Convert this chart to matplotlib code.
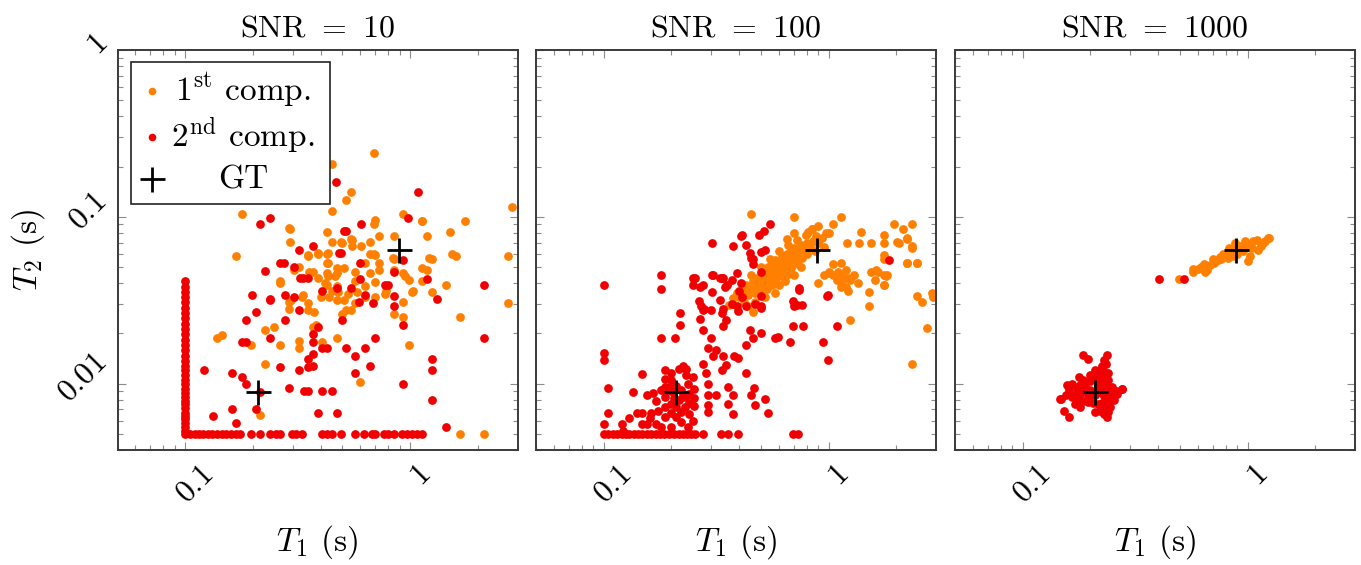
import matplotlib
matplotlib.use('Agg')
import matplotlib.pyplot as plt
from matplotlib.ticker import FixedLocator, LogLocator, NullFormatter
from matplotlib.transforms import ScaledTranslation
from matplotlib.patches import Rectangle

plt.rcParams['font.family'] = 'serif'
plt.rcParams['font.serif'] = ['cmr10', 'DejaVu Serif']
plt.rcParams['mathtext.fontset'] = 'cm'
plt.rcParams['axes.formatter.use_mathtext'] = True
plt.rcParams['axes.unicode_minus'] = False

# ---------------- data ----------------
snr_values = ['10', '100', '1000']
x_major_ticks = [0.1, 1]
x_tick_labels = ['0.1', '1']
y_major_ticks = [0.01, 0.1, 1]
y_tick_labels = ['0.01', '0.1', '1']
legend_labels = [r'$1^{\mathrm{st}}$ comp.', r'$2^{\mathrm{nd}}$ comp.', 'GT']

gt_t1 = [0.21, 0.89]
gt_t2 = [0.0089, 0.0635]

# SNR = 10, 1st component (orange)
p1_c1 = [(0.692,0.24),(0.45,0.207),(0.546,0.14),(0.52,0.126),(0.45,0.109),(0.178,0.104),(0.291,0.085),(0.291,0.0707),
 (0.427,0.081),(0.45,0.0707),(0.494,0.0707),(0.546,0.0737),(0.603,0.067),(0.665,0.0707),(0.692,0.09),(0.729,0.077),
 (0.844,0.077),(0.927,0.104),(1.13,0.094),(1.19,0.077),(1.51,0.081),(1.75,0.094),(2.85,0.115),
 (0.169,0.058),(0.352,0.0593),(0.388,0.06),(0.427,0.06),(0.427,0.0528),(0.70,0.0593),(0.844,0.0557),(1.21,0.057),
 (1.25,0.0555),(1.53,0.0598),(1.6,0.058),(2.73,0.058),(2.73,0.0304),(1.67,0.025),(1.44,0.039),(1.19,0.0482),
 (1.03,0.0357),(0.984,0.042),(0.934,0.046),(0.934,0.031),(0.934,0.025),(0.984,0.017),(0.844,0.0263),(0.78,0.0357),
 (0.70,0.0409),(0.729,0.0528),(0.632,0.0528),(0.665,0.046),(0.571,0.047),(0.571,0.041),(0.546,0.0277),(0.52,0.0277),
 (0.498,0.0262),(0.60,0.0102),(0.472,0.0187),(0.406,0.0178),(0.369,0.0219),(0.38,0.0226),(0.352,0.0277),(0.372,0.027),
 (0.335,0.034),(0.352,0.0304),(0.32,0.018),(0.32,0.0163),(0.305,0.048),(0.289,0.031),(0.289,0.028),(0.264,0.04),
 (0.264,0.017),(0.248,0.022),(0.227,0.021),(0.227,0.0132),(0.216,0.0065),(0.197,0.017),(0.139,0.0187),(0.146,0.0196),
 (0.427,0.046),(0.427,0.039),(0.45,0.036),(0.472,0.046),(1.67,0.005),(2.13,0.005),
 (1.125,0.0945),(0.289,0.086),(0.695,0.0954),(1.125,0.0493),(1.25,0.0356),(1.125,0.041),(1.02,0.0356),(0.95,0.044),
 (0.84,0.0566),(0.85,0.0481),(0.73,0.048),(0.69,0.0595),(0.66,0.0595),(0.55,0.073),(0.55,0.067),(0.5,0.07),
 (0.43,0.0607),(0.39,0.0607),(0.35,0.058),(0.43,0.053),(0.474,0.0493),(0.51,0.0493),(0.465,0.044),(0.43,0.044),
 (0.39,0.043),(0.37,0.047),(0.355,0.047),(0.32,0.05),(0.473,0.0383),(0.48,0.0356),(0.53,0.0346),(0.58,0.0356),
 (0.63,0.0383),(0.7,0.033),(0.63,0.033),(0.57,0.0303),(0.51,0.0317),(0.473,0.0317),(0.435,0.033),(0.42,0.04),
 (0.4,0.033),(0.33,0.033),(0.294,0.0317),(0.265,0.041),(0.77,0.0346)]

# SNR = 10, 2nd component (red)
p1_c2 = [(0.1,0.005),(0.1,0.0052),(0.1,0.0055),(0.1,0.0058),(0.1,0.0061),(0.1,0.0064),(0.1,0.0067),(0.1,0.0071),
 (0.1,0.0075),(0.1,0.0079),(0.1,0.0083),(0.1,0.0088),(0.1,0.0093),(0.1,0.0099),(0.1,0.0105),(0.1,0.0112),(0.1,0.012),
 (0.1,0.0128),(0.1,0.0137),(0.1,0.0147),(0.1,0.0158),(0.1,0.017),(0.1,0.0183),(0.1,0.0197),(0.1,0.0212),(0.1,0.0228),
 (0.1,0.0246),(0.1,0.0265),(0.1,0.0285),(0.1,0.0307),(0.1,0.033),(0.1,0.0355),(0.1,0.038),(0.1,0.0415),
 (0.105,0.005),(0.11,0.005),(0.115,0.005),(0.12,0.005),(0.126,0.005),(0.132,0.005),(0.138,0.005),(0.145,0.005),
 (0.152,0.005),(0.16,0.005),(0.168,0.005),(0.176,0.005),(0.197,0.005),(0.216,0.005),(0.237,0.005),(0.252,0.005),
 (0.265,0.005),(0.297,0.005),(0.311,0.005),(0.329,0.005),(0.406,0.005),(0.427,0.005),(0.447,0.005),(0.494,0.005),
 (0.571,0.005),(0.621,0.005),(0.676,0.005),(0.70,0.005),(0.762,0.005),(0.80,0.005),(0.844,0.005),(0.918,0.005),
 (0.966,0.005),(1.02,0.005),(1.07,0.005),(1.13,0.005),
 (0.121,0.012),(0.133,0.0064),(0.162,0.0115),(0.162,0.007),(0.169,0.0058),(0.178,0.011),(0.187,0.0099),(0.206,0.007),
 (0.216,0.0089),(0.178,0.0177),(0.187,0.0178),(0.199,0.034),(0.187,0.0241),(0.206,0.0267),(0.226,0.0473),(0.239,0.032),
 (0.239,0.0187),(0.264,0.0126),(0.264,0.0528),(0.275,0.0528),(0.277,0.0239),(0.289,0.0094),(0.305,0.05),(0.305,0.033),
 (0.32,0.0636),(0.32,0.0277),(0.32,0.012),(0.324,0.043),(0.335,0.043),(0.352,0.043),(0.336,0.009),(0.352,0.009),
 (0.352,0.0126),(0.369,0.0672),(0.369,0.0197),(0.369,0.0178),(0.369,0.0151),(0.369,0.0127),(0.352,0.0141),(0.388,0.0217),
 (0.388,0.0067),(0.406,0.009),(0.406,0.0357),(0.406,0.0163),(0.427,0.0163),(0.447,0.009),(0.472,0.0067),(0.472,0.0373),
 (0.481,0.0607),(0.495,0.0607),(0.506,0.082),(0.52,0.082),(0.497,0.0239),(0.52,0.0163),(0.546,0.0373),(0.571,0.0146),
 (0.571,0.0115),(0.598,0.0528),(0.60,0.0423),(0.632,0.0163),(0.665,0.0127),(0.70,0.0187),(0.774,0.039),(0.80,0.039),
 (0.844,0.047),(0.844,0.0337),(0.844,0.029),(0.934,0.0553),(0.934,0.0226),(0.934,0.0099),(1.19,0.0423),(1.31,0.032),
 (1.25,0.014),(1.25,0.012),(1.25,0.008),(1.44,0.0055),(2.13,0.039),(2.13,0.0187),(0.47,0.162),(0.216,0.09),
 (0.239,0.0986),(0.603,0.09),(0.977,0.0986),(1.08,0.14),(0.237,0.0319),(0.277,0.034),(0.63,0.034),(0.594,0.0307),
 (0.687,0.0303)]

# SNR = 100, 1st component (orange)
p2_c1 = [(0.45,0.104),(0.70,0.0995),(1.13,0.0995),(1.95,0.09),(2.14,0.0847),(2.35,0.09),(1.39,0.081),(1.76,0.078),
 (2.02,0.0703),(2.24,0.074),(2.35,0.0665),(1.04,0.0908),(1.0,0.08),(0.847,0.085),(0.81,0.081),(0.70,0.08),(0.65,0.074),
 (1.21,0.0697),(1.36,0.0697),(1.54,0.0697),(1.76,0.0697),(1.76,0.0593),(1.76,0.056),(2.24,0.0528),(2.47,0.0528),
 (1.13,0.0528),(1.2,0.048),(1.12,0.045),(1.18,0.043),(1.23,0.043),(1.0,0.0465),(1.05,0.045),(1.09,0.042),(1.13,0.04),
 (1.13,0.038),(1.55,0.047),(1.65,0.047),(1.6,0.042),(1.76,0.039),(1.8,0.044),(1.51,0.0356),(1.51,0.029),(2.47,0.0335),
 (2.88,0.0347),(0.9,0.04),(0.95,0.045),(1.0,0.046),(1.05,0.052),(1.1,0.047),
 (1.25,0.024),(2.74,0.0216),(2.35,0.0132),(2.9,0.033),(2.6,0.031),(1.62,0.048),(1.82,0.045),(1.76,0.045),(1.76,0.0391),
 (2.23,0.0528),(2.48,0.0528),(2.05,0.07),(2.35,0.065),(2.23,0.075),(1.25,0.042),(1.3,0.045),(1.35,0.04),(1.2,0.038),
 (1.22,0.036),
 (0.42,0.036),(0.44,0.034),(0.43,0.039),(0.45,0.037),(0.46,0.041),(0.47,0.035),(0.48,0.038),(0.48,0.043),(0.49,0.04),
 (0.5,0.036),(0.5,0.044),(0.51,0.039),(0.52,0.042),(0.52,0.047),(0.53,0.037),(0.53,0.045),(0.54,0.04),(0.54,0.05),
 (0.55,0.043),(0.55,0.047),(0.56,0.039),(0.56,0.052),(0.57,0.045),(0.57,0.049),(0.58,0.042),(0.58,0.055),(0.59,0.047),
 (0.6,0.05),(0.6,0.044),(0.61,0.053),(0.62,0.047),(0.62,0.058),(0.63,0.05),(0.64,0.055),(0.65,0.045),(0.65,0.06),
 (0.66,0.052),(0.67,0.057),(0.68,0.049),(0.68,0.062),(0.7,0.055),(0.7,0.065),(0.72,0.058),(0.73,0.052),(0.74,0.062),
 (0.75,0.068),(0.76,0.057),(0.78,0.064),(0.8,0.07),(0.8,0.06),(0.83,0.066),(0.85,0.072),(0.87,0.062),(0.88,0.077),
 (0.9,0.07),(0.93,0.075),(0.95,0.066),(0.97,0.08),(0.6,0.039),(0.64,0.041),(0.7,0.045),(0.75,0.05),(0.47,0.031),
 (0.52,0.033),(0.58,0.035),(0.45,0.045),(0.5,0.05),(0.55,0.056),(0.6,0.062),(0.66,0.068),(0.72,0.073),(0.79,0.078),
 (0.84,0.084),(0.9,0.088),(0.42,0.031),(0.44,0.029),(0.46,0.027),(0.40,0.033),(0.36,0.0297),(0.376,0.0325),(0.39,0.035)]

# SNR = 100, 2nd component (red)
p2_c2 = [(0.1,0.005),(0.105,0.005),(0.11,0.005),(0.115,0.005),(0.12,0.005),(0.125,0.005),(0.13,0.005),(0.136,0.005),
 (0.142,0.005),(0.148,0.005),(0.155,0.005),(0.162,0.005),(0.17,0.005),(0.178,0.005),(0.186,0.005),(0.195,0.005),
 (0.205,0.005),(0.215,0.005),(0.225,0.005),(0.235,0.005),(0.245,0.005),(0.255,0.005),(0.275,0.005),(0.333,0.005),
 (0.356,0.005),(0.395,0.005),(0.692,0.005),(0.728,0.005),
 (0.1,0.039),(0.1,0.0153),(0.1,0.0138),(0.105,0.0094),(0.105,0.0067),(0.1,0.0057),(0.122,0.0052),(0.135,0.0089),
 (0.148,0.0114),(0.155,0.0085),(0.14,0.0067),(0.148,0.0067),(0.148,0.0057),(0.155,0.0057),(0.163,0.0067),(0.17,0.0057),
 (0.179,0.0187),(0.179,0.045),(0.179,0.0368),(0.187,0.012),(0.187,0.0106),(0.187,0.0095),(0.187,0.0083),(0.187,0.0072),
 (0.187,0.0063),(0.2,0.0115),(0.2,0.009),(0.2,0.0076),(0.207,0.0187),(0.218,0.0264),(0.218,0.0224),(0.21,0.0063),
 (0.22,0.0059),(0.233,0.0122),(0.233,0.0112),(0.236,0.0099),(0.24,0.0087),(0.24,0.0077),(0.24,0.0066),(0.25,0.011),
 (0.253,0.0093),(0.253,0.0082),(0.253,0.0073),(0.25,0.006),(0.23,0.0083),(0.236,0.0055),(0.25,0.043),(0.25,0.039),
 (0.264,0.0311),(0.275,0.0277),(0.267,0.0243),(0.277,0.021),(0.301,0.0187),(0.292,0.0163),(0.305,0.0146),(0.275,0.0132),
 (0.286,0.0115),(0.292,0.01),(0.292,0.0086),(0.316,0.0085),(0.292,0.0074),(0.292,0.0068),(0.304,0.0449),(0.304,0.0355),
 (0.304,0.0697),(0.33,0.043),(0.34,0.043),(0.355,0.039),(0.33,0.0315),(0.335,0.0264),(0.34,0.0222),(0.35,0.024),
 (0.316,0.016),(0.34,0.0146),(0.35,0.013),(0.335,0.012),(0.38,0.0146),(0.395,0.0142),(0.356,0.0096),(0.375,0.0085),
 (0.356,0.0076),(0.375,0.0066),(0.395,0.0271),(0.408,0.0766),(0.43,0.068),(0.445,0.0605),(0.46,0.056),(0.39,0.0459),
 (0.408,0.04),(0.43,0.0115),(0.45,0.0085),(0.465,0.0094),(0.47,0.0074),(0.43,0.017),(0.445,0.021),(0.46,0.0187),
 (0.5,0.02),(0.5,0.0283),(0.5,0.0335),(0.52,0.0081),(0.54,0.0067),(0.595,0.0191),(0.58,0.0187),(0.673,0.0178),
 (0.692,0.0311),(0.70,0.029),(0.692,0.0222),(0.77,0.0222),(0.74,0.0365),(0.94,0.0178),(0.99,0.034),(0.99,0.0138),
 (1.09,0.0222),(1.85,0.0553),
 (0.375,0.0665),(0.41,0.078),(0.49,0.078),(0.518,0.082),(0.546,0.09),(0.50,0.0612),(0.52,0.063),(0.45,0.0568),
 (0.46,0.052),(0.5,0.047),(0.254,0.043),(0.268,0.0382),(0.277,0.039),(0.306,0.0449),(0.336,0.043),(0.345,0.0382),
 (0.37,0.042),(0.4,0.036),(0.41,0.033),(0.27,0.029),(0.28,0.028),(0.3,0.0275),(0.34,0.028),(0.37,0.03),(0.39,0.029),
 (0.43,0.029),(0.47,0.03),(0.5,0.029),(0.74,0.0373),(0.76,0.0295),(0.72,0.0295),(0.98,0.0336),
 (0.2,0.0105),(0.21,0.0097),(0.22,0.0092),(0.225,0.0085),(0.215,0.008),(0.205,0.0082),(0.195,0.0095),(0.23,0.0072),
 (0.22,0.0068),(0.21,0.0072),(0.2,0.0067),(0.17,0.0079),(0.165,0.0088),(0.18,0.0092),(0.175,0.0069),(0.16,0.0062),
 (0.2,0.0055),(0.18,0.0055),(0.13,0.0062),(0.12,0.0057),(0.215,0.0122),(0.225,0.0128)]

# SNR = 1000, 1st component (orange)
p3_c1 = [(0.497,0.0425),(0.574,0.0486),(0.6,0.0486),(0.658,0.048),(0.68,0.0516),(0.705,0.0528),(0.74,0.0553),
 (0.793,0.058),(0.836,0.0607),(0.864,0.0636),(0.909,0.0622),(0.955,0.0652),(1.007,0.0683),(1.06,0.0715),(1.1,0.073),
 (1.25,0.0747),(1.0,0.054),(1.02,0.058),(0.82,0.0566),(0.716,0.054),(0.668,0.0505),(0.647,0.047),(1.11,0.0636),
 (1.17,0.0698),(1.23,0.0745),(1.15,0.0666),(0.88,0.0698),(0.92,0.0666),(0.97,0.0713),(0.83,0.0654),(0.76,0.056),
 (0.78,0.0595),(0.86,0.058),(0.9,0.06),(0.95,0.062),(0.75,0.0575),(0.7,0.056),(0.62,0.05),(0.64,0.052),(1.05,0.065),
 (1.2,0.072),(0.57,0.047)]

# SNR = 1000, 2nd component (red)
p3_c2 = [(0.405,0.0425),(0.519,0.0425),
 (0.186,0.0148),(0.195,0.014),(0.237,0.0148),(0.235,0.0132),(0.24,0.0115),(0.21,0.012),(0.22,0.0118),(0.225,0.0125),
 (0.178,0.011),(0.166,0.01),(0.158,0.0098),(0.148,0.0081),(0.146,0.0081),(0.153,0.0069),(0.16,0.0063),(0.277,0.0093),
 (0.263,0.0087),(0.237,0.0063),(0.245,0.0072),(0.275,0.0093),
 (0.19,0.0095),(0.2,0.0092),(0.205,0.0088),(0.21,0.0085),(0.215,0.009),(0.22,0.0094),(0.225,0.0088),(0.23,0.0084),
 (0.2,0.0082),(0.195,0.0086),(0.185,0.009),(0.18,0.0087),(0.175,0.0093),(0.17,0.0085),(0.215,0.0098),(0.225,0.0102),
 (0.235,0.0098),(0.24,0.0092),(0.245,0.0088),(0.25,0.0085),(0.235,0.008),(0.225,0.0077),(0.215,0.0075),(0.205,0.0077),
 (0.195,0.0078),(0.185,0.0079),(0.175,0.008),(0.165,0.0083),(0.24,0.0075),(0.23,0.0071),(0.22,0.0069),(0.21,0.0068),
 (0.23,0.0066),(0.24,0.0068),(0.22,0.0105),(0.23,0.011),(0.21,0.0108),(0.2,0.0103),(0.19,0.0102),(0.2,0.0112),
 (0.215,0.0115),(0.23,0.0118),(0.225,0.0128),(0.23,0.0138),(0.24,0.0105),(0.25,0.0095),(0.26,0.009),(0.255,0.008),
 (0.17,0.0076),(0.18,0.0072),(0.155,0.0085),(0.16,0.0092),(0.185,0.0105),(0.18,0.0098)]

panels = [(p1_c1, p1_c2), (p2_c1, p2_c2), (p3_c1, p3_c2)]

# ---------------- style ----------------
ORANGE = '#ff8000'
RED = '#f00000'
FS_TICK = 23
FS_LAB = 24
FS_TITLE = 23
DOT = 6.3

fig = plt.figure(figsize=(13.61, 5.65), dpi=100)
lefts = [117.5, 536.0, 955.0]
W, H = 1361.0, 565.0
axes = []
for i, (c1, c2) in enumerate(panels):
    ax = fig.add_axes([lefts[i] / W, 115 / H, 400 / W, 400 / H])
    axes.append(ax)
    ax.set_xscale('log')
    ax.set_yscale('log')
    ax.plot([p[0] for p in c1], [p[1] for p in c1], 'o', color=ORANGE, ms=DOT, mew=0, zorder=2)
    ax.plot([p[0] for p in c2], [p[1] for p in c2], 'o', color=RED, ms=DOT, mew=0, zorder=3)
    ax.plot(gt_t1, gt_t2, '+', color='black', ms=18, mew=2, zorder=4)
    ax.set_xlim(0.05, 3)
    ax.set_ylim(0.004, 1)

    ax.xaxis.set_major_locator(FixedLocator(x_major_ticks))
    ax.yaxis.set_major_locator(FixedLocator(y_major_ticks))
    ax.xaxis.set_minor_locator(LogLocator(base=10, subs=range(2, 10), numticks=50))
    ax.yaxis.set_minor_locator(LogLocator(base=10, subs=range(2, 10), numticks=50))
    ax.xaxis.set_minor_formatter(NullFormatter())
    ax.yaxis.set_minor_formatter(NullFormatter())
    ax.set_xticklabels(x_tick_labels)
    ax.set_yticklabels(y_tick_labels)
    ax.tick_params(which='both', direction='in', top=True, right=True,
                   color='#8c8c8c', width=0.8, labelsize=FS_TICK)
    ax.tick_params(which='major', length=5.5)
    ax.tick_params(which='minor', length=3.5)
    ax.tick_params(axis='x', pad=6)
    ax.tick_params(axis='y', pad=3.5)
    for lab in ax.get_xticklabels():
        lab.set_rotation(45)
        lab.set_ha('center')
        lab.set_va('top')
        lab.set_transform(lab.get_transform() + ScaledTranslation(10 / 100, 0, fig.dpi_scale_trans))
    for lab in ax.get_yticklabels():
        lab.set_rotation(45)
        lab.set_ha('right')
        lab.set_va('center')
        lab.set_transform(lab.get_transform() + ScaledTranslation(0, 7.5 / 100, fig.dpi_scale_trans))
    if i > 0:
        ax.tick_params(labelleft=False)

    for sp in ax.spines.values():
        sp.set_color('#3a3a3a')
        sp.set_linewidth(1.4)

    ax.set_title('SNR $=$ ' + snr_values[i], fontsize=FS_TITLE, pad=10)
    ax.set_xlabel('$T_1$ (s)', fontsize=FS_LAB, va='center')
    ax.xaxis.set_label_coords(0.5, -0.23)

axes[0].set_ylabel('$T_2$ (s)', fontsize=FS_LAB, va='center')
axes[0].yaxis.set_label_coords(-0.2235, 0.5)

# legend (drawn as in pgfplots: centred text column)
ax = axes[0]
ax.add_patch(Rectangle((0.033, 0.614), 0.499, 0.355, transform=ax.transAxes,
                       facecolor='white', edgecolor='#222222', lw=1.2, zorder=5))
rows_marker_y = [0.8975, 0.783, 0.6775]
rows_text_y = [0.871, 0.757, 0.654]
ax.plot([0.086], [rows_marker_y[0]], 'o', color=ORANGE, ms=5.5, mew=0, transform=ax.transAxes, zorder=6, clip_on=False)
ax.plot([0.086], [rows_marker_y[1]], 'o', color=RED, ms=5.5, mew=0, transform=ax.transAxes, zorder=6, clip_on=False)
ax.plot([0.086], [rows_marker_y[2]], '+', color='black', ms=18, mew=2, transform=ax.transAxes, zorder=6, clip_on=False)
for lab, ty in zip(legend_labels, rows_text_y):
    ax.text(0.313, ty, lab, transform=ax.transAxes, ha='center', va='baseline', fontsize=FS_LAB, zorder=6)

fig.savefig('out.png', dpi=100)
